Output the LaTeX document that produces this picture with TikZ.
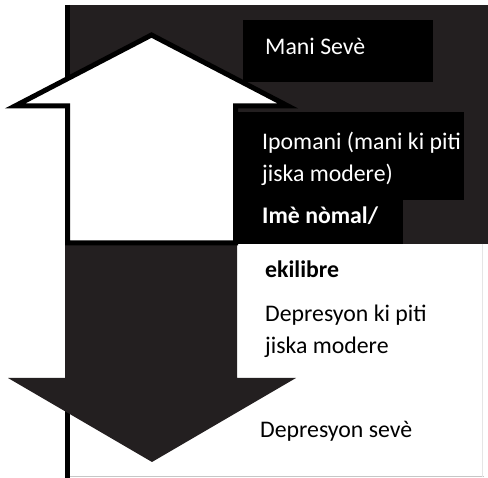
\documentclass[tikz,border=0pt]{standalone}
\usepackage{fontspec}
\setmainfont{Carlito}
\definecolor{darkbg}{HTML}{231F20}
\begin{document}
\begin{tikzpicture}[x=1pt,y=-1pt,
  lbl/.style={anchor=base west, inner sep=0pt, font=\fontsize{23.8}{28}\selectfont},
  wlbl/.style={lbl, text=white},
  tbox/.style={anchor=north west, fill=black, draw=none, inner sep=0pt}]
\useasboundingbox (0,0) rectangle (488,478);
% dark background
\fill[darkbg] (65,5) rectangle (488,244);
% faint frame
\draw[gray!45, line width=1pt] (70,477) -- (484,477);
\draw[gray!20, line width=0.8pt] (482,244) -- (482,477);
% left frame line
\draw[line width=5pt] (67.5,5) -- (67.5,478);
% down arrow (filled)
\fill[darkbg] (65,242) -- (237,242) -- (237,378) -- (296,378) -- (152,462) -- (8,378) -- (65,378) -- cycle;
% up arrow (white, outlined)
\filldraw[fill=white, draw=black, line width=5pt, line join=miter]
  (151.5,35) -- (288,106) -- (235.5,106) -- (235.5,243) -- (67.5,243) -- (67.5,106) -- (15,106) -- cycle;
% boxes
\node[tbox, minimum width=190pt, minimum height=62pt] (b1) at (243,20) {};
\node[tbox, minimum width=227pt, minimum height=88pt] (b2) at (237,112) {};
\node[tbox, minimum width=166pt, minimum height=45pt] (b3) at (237,199) {};
% texts
\node[wlbl] (t1) at (265,55) {Mani Sevè};
\node[wlbl] (t2) at (262,150) {Ipomani (mani ki piti};
\node[wlbl] (t3) at (262,182) {jiska modere)};
\node[wlbl, font=\fontsize{23.8}{28}\selectfont\bfseries] (t4) at (262,224) {Imè nòmal/};
\node[lbl, font=\fontsize{23.8}{28}\selectfont\bfseries] (t5) at (265,278) {ekilibre};
\node[lbl] (t6) at (265,322) {Depresyon ki piti};
\node[lbl] (t7) at (265,354) {jiska modere};
\node[lbl] (t8) at (260,438) {Depresyon sevè};
\end{tikzpicture}
\end{document}
